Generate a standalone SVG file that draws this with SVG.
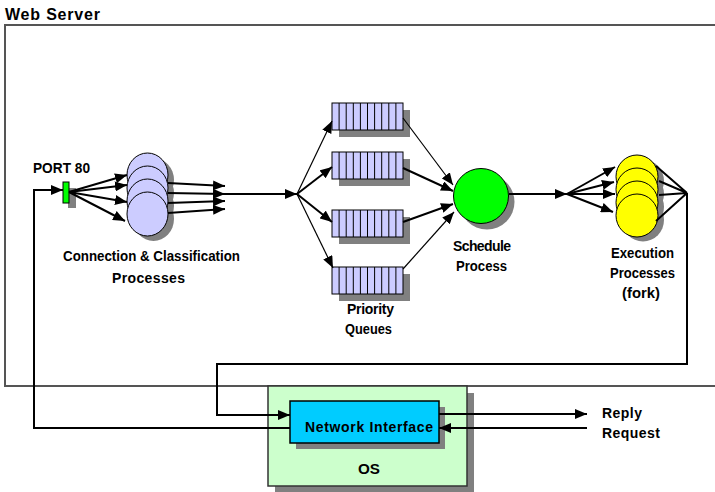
<svg xmlns="http://www.w3.org/2000/svg" xmlns:xlink="http://www.w3.org/1999/xlink" width="715" height="492" viewBox="0 0 715 492">
  <style>
    text { font-family: "Liberation Sans", Arial, sans-serif; font-weight: bold; font-size: 14px; fill: #000; }
    .title { font-size: 16px; }
    .shadow { fill: #808080; stroke: none; }
    .wire { fill: none; stroke: #000; stroke-width: 2; }
    .thin { fill: none; stroke: #000; stroke-width: 1.2; }
    .lav { fill: #ccccff; stroke: #000; stroke-width: 1; }
    .yel { fill: #ffff00; stroke: #000; stroke-width: 1; }
    .cell { stroke: #000; stroke-width: 1; }
  </style>
  <defs>
    <marker id="arrow" markerUnits="userSpaceOnUse" markerWidth="13" markerHeight="10" refX="12" refY="5" orient="auto">
      <path d="M0,0 L12,5 L0,10 z" fill="#000"/>
    </marker>
    <!-- one priority queue: 10 slots, 71 x 27 -->
    <g id="queue">
      <rect x="7" y="7" width="71" height="27" class="shadow"/>
      <rect x="0" y="0" width="71" height="27" class="lav"/>
      <path class="cell" d="M7.1,0V27 M14.2,0V27 M21.3,0V27 M28.4,0V27 M35.5,0V27 M42.6,0V27 M49.7,0V27 M56.8,0V27 M63.9,0V27"/>
    </g>
  </defs>

  <rect width="715" height="492" fill="#fff"/>

  <!-- Web server frame -->
  <g id="web-server">
    <rect x="5" y="25" width="712" height="361" fill="none" stroke="#555" stroke-width="2"/>
    <text class="title" x="5" y="20" textLength="95" lengthAdjust="spacing">Web Server</text>
  </g>

  <!-- OS frame -->
  <g id="os">
    <rect x="275" y="393" width="199" height="100" class="shadow"/>
    <rect x="268" y="386" width="199" height="100" fill="#ccffcc" stroke="#333" stroke-width="1.5"/>
    <text x="358" y="474" textLength="22" lengthAdjust="spacingAndGlyphs">OS</text>
  </g>

  <!-- Network interface -->
  <g id="network-interface">
    <rect x="296" y="407" width="149" height="42" class="shadow"/>
    <rect x="290" y="401" width="149" height="42" fill="#00ccff" stroke="#000" stroke-width="1.5"/>
    <text x="305" y="432" textLength="128" lengthAdjust="spacing">Network Interface</text>
  </g>

  <!-- Port 80 -->
  <g id="port80">
    <rect x="68" y="188" width="8" height="20" class="shadow"/>
    <rect x="63" y="182" width="6" height="21" fill="#00ff00" stroke="#000" stroke-width="1"/>
    <text x="33" y="173" textLength="57" lengthAdjust="spacingAndGlyphs">PORT 80</text>
  </g>

  <!-- Connection & classification processes -->
  <g id="classification">
    <ellipse cx="153.5" cy="180" rx="20.5" ry="22" class="shadow"/>
    <ellipse cx="153.5" cy="193" rx="20.5" ry="22" class="shadow"/>
    <ellipse cx="153.5" cy="206" rx="20.5" ry="22" class="shadow"/>
    <ellipse cx="153.5" cy="219" rx="20.5" ry="22" class="shadow"/>
    <ellipse cx="147.5" cy="175" rx="20.5" ry="22" class="lav"/>
    <ellipse cx="147.5" cy="188" rx="20.5" ry="22" class="lav"/>
    <ellipse cx="147.5" cy="201" rx="20.5" ry="22" class="lav"/>
    <ellipse cx="147.5" cy="214" rx="20.5" ry="22" class="lav"/>
    <text x="63" y="261" textLength="177" lengthAdjust="spacingAndGlyphs">Connection &amp; Classification</text>
    <text x="112" y="283" textLength="73" lengthAdjust="spacing">Processes</text>
  </g>

  <!-- Priority queues -->
  <g id="priority-queues">
    <use xlink:href="#queue" x="332" y="103"/>
    <use xlink:href="#queue" x="332" y="152"/>
    <use xlink:href="#queue" x="332" y="210"/>
    <use xlink:href="#queue" x="332" y="267"/>
    <text x="347" y="314" textLength="47" lengthAdjust="spacing">Priority</text>
    <text x="345" y="334" textLength="47" lengthAdjust="spacingAndGlyphs">Queues</text>
  </g>

  <!-- Scheduler -->
  <g id="schedule">
    <circle cx="487" cy="202" r="27.5" class="shadow"/>
    <circle cx="481" cy="196" r="27.5" fill="#00ff00" stroke="#000" stroke-width="1"/>
    <text x="453" y="251" textLength="58" lengthAdjust="spacing">Schedule</text>
    <text x="456" y="271" textLength="51" lengthAdjust="spacingAndGlyphs">Process</text>
  </g>

  <!-- Execution processes -->
  <g id="execution">
    <ellipse cx="643" cy="181" rx="21" ry="21.5" class="shadow"/>
    <ellipse cx="643" cy="194" rx="21" ry="21.5" class="shadow"/>
    <ellipse cx="643" cy="207" rx="21" ry="21.5" class="shadow"/>
    <ellipse cx="643" cy="220" rx="21" ry="21.5" class="shadow"/>
    <ellipse cx="637" cy="176.5" rx="21" ry="21.5" class="yel"/>
    <ellipse cx="637" cy="189.5" rx="21" ry="21.5" class="yel"/>
    <ellipse cx="637" cy="202.5" rx="21" ry="21.5" class="yel"/>
    <ellipse cx="637" cy="215.5" rx="21" ry="21.5" class="yel"/>
    <text x="611" y="258" textLength="63" lengthAdjust="spacingAndGlyphs">Execution</text>
    <text x="610" y="278" textLength="65" lengthAdjust="spacingAndGlyphs">Processes</text>
    <text x="622" y="298" textLength="38" lengthAdjust="spacingAndGlyphs">(fork)</text>
  </g>

  <!-- External traffic labels -->
  <g id="external">
    <text x="602" y="418" textLength="40" lengthAdjust="spacing">Reply</text>
    <text x="602" y="438" textLength="58" lengthAdjust="spacing">Request</text>
  </g>

  <!-- Connectors -->
  <g id="connectors">
    <!-- port to classification processes -->
    <line class="wire" x1="69" y1="192" x2="127" y2="175" marker-end="url(#arrow)"/>
    <line class="wire" x1="69" y1="192" x2="127" y2="185" marker-end="url(#arrow)"/>
    <line class="wire" x1="69" y1="192" x2="127" y2="202" marker-end="url(#arrow)"/>
    <line class="wire" x1="69" y1="192" x2="125" y2="221" marker-end="url(#arrow)"/>
    <!-- classification outputs merge -->
    <line class="wire" x1="168" y1="183" x2="225" y2="186" marker-end="url(#arrow)"/>
    <line class="wire" x1="168" y1="193" x2="225" y2="194" marker-end="url(#arrow)"/>
    <line class="wire" x1="168" y1="203" x2="225" y2="201" marker-end="url(#arrow)"/>
    <line class="wire" x1="168" y1="213" x2="225" y2="209" marker-end="url(#arrow)"/>
    <line class="wire" x1="218" y1="194" x2="297" y2="194" marker-end="url(#arrow)"/>
    <!-- dispatch into queues -->
    <line class="thin" x1="297" y1="194" x2="332" y2="121" marker-end="url(#arrow)"/>
    <line class="wire" x1="297" y1="194" x2="332" y2="167" marker-end="url(#arrow)"/>
    <line class="wire" x1="297" y1="194" x2="332" y2="222" marker-end="url(#arrow)"/>
    <line class="thin" x1="297" y1="194" x2="333" y2="268" marker-end="url(#arrow)"/>
    <!-- queues to scheduler -->
    <line class="thin" x1="403" y1="118" x2="453" y2="185" marker-end="url(#arrow)"/>
    <line class="wire" x1="403" y1="168" x2="453" y2="191" marker-end="url(#arrow)"/>
    <line class="wire" x1="403" y1="222" x2="453" y2="204" marker-end="url(#arrow)"/>
    <line class="thin" x1="403" y1="269" x2="454" y2="212" marker-end="url(#arrow)"/>
    <!-- scheduler to execution processes -->
    <line class="wire" x1="509" y1="194" x2="567" y2="194" marker-end="url(#arrow)"/>
    <line class="wire" x1="567" y1="194" x2="615" y2="167" marker-end="url(#arrow)"/>
    <line class="wire" x1="567" y1="194" x2="614" y2="182" marker-end="url(#arrow)"/>
    <line class="wire" x1="567" y1="194" x2="615" y2="194" marker-end="url(#arrow)"/>
    <line class="wire" x1="567" y1="194" x2="613" y2="212" marker-end="url(#arrow)"/>
    <!-- execution outputs join -->
    <path class="wire" d="M656,166 L687,193 M659,181 L687,193 M659,195 L687,193 M656,221 L687,193"/>
    <!-- reply path back to the network interface -->
    <path class="wire" d="M687,193 V364 H217 V415 H290" marker-end="url(#arrow)"/>
    <!-- incoming request path to port 80 -->
    <path class="wire" d="M290,428 H34 V190 H63" marker-end="url(#arrow)"/>
    <!-- external reply / request -->
    <line class="wire" x1="439" y1="414" x2="587" y2="414" marker-end="url(#arrow)"/>
    <line class="wire" x1="587" y1="428" x2="439" y2="428" marker-end="url(#arrow)"/>
  </g>
</svg>
